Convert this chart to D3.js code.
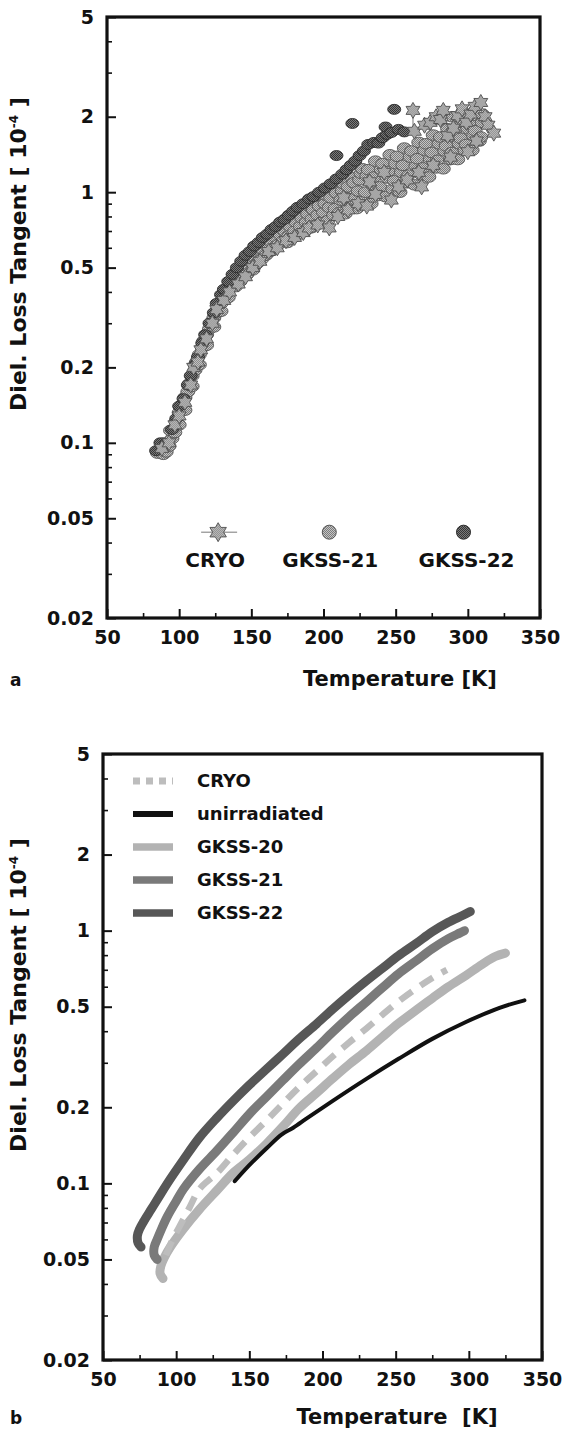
<!DOCTYPE html>
<html><head><meta charset="utf-8">
<script src="https://cdn.jsdelivr.net/npm/d3@7"></script>
<style>body{margin:0;background:#fff}text{fill:#111}</style>
</head><body>
<svg id="c" width="568" height="1433" xmlns="http://www.w3.org/2000/svg"></svg>
<script>
// ---------- DATA ----------
const xTicks = [50,100,150,200,250,300,350];
const xMinorTicks = [75,125,175,225,275,325];
const yTicks = [5,2,1,0.5,0.2,0.1,0.05,0.02];
const yTickLabels = ["5","2","1","0.5","0.2","0.1","0.05","0.02"];
const yMinorTicks = [4,3,0.9,0.8,0.7,0.6,0.4,0.3,0.09,0.08,0.07,0.06,0.04,0.03];

// panel a : scatter series [T (K), tan delta (1e-4)]
const scatterNames = ["CRYO","GKSS-21","GKSS-22"];
const gkss22Points = [[84,0.093],[87,0.1],[91,0.099],[95,0.113],[98,0.125],[100,0.14],[103,0.15],[106,0.17],[108,0.185],[111,0.205],[113,0.22],[116,0.25],[118,0.27],[121,0.3],[124,0.33],[126,0.36],[129,0.39],[131,0.41],[134,0.44],[137,0.47],[140,0.5],[143,0.53],[146,0.56],[149,0.58],[152,0.61],[155,0.63],[158,0.66],[161,0.68],[164,0.71],[167,0.73],[170,0.76],[173,0.78],[176,0.81],[179,0.84],[182,0.87],[186,0.9],[190,0.94],[193,0.96],[197,1.0],[201,1.04],[205,1.08],[209,1.13],[209,1.4],[213,1.18],[216,1.23],[219,1.28],[222,1.33],[225,1.4],[220,1.88],[228,1.46],[231,1.55],[235,1.58],[238,1.57],[241,1.65],[244,1.7],[243,1.82],[247,1.73],[249,2.14],[252,1.78],[256,1.74]];
const gkss21Points = [[85,0.091],[87,0.094],[89,0.09],[91,0.092],[93,0.097],[90,0.1],[95,0.104],[94,0.112],[97,0.11],[98,0.122],[100,0.118],[100,0.132],[102,0.142],[104,0.135],[104,0.152],[106,0.16],[107,0.172],[109,0.168],[109,0.185],[111,0.195],[112,0.21],[114,0.205],[114,0.225],[116,0.24],[117,0.255],[119,0.245],[119,0.27],[121,0.285],[122,0.3],[124,0.29],[124,0.315],[126,0.33],[127,0.35],[129,0.335],[129,0.36],[131,0.375],[132,0.39],[134,0.38],[134,0.41],[136,0.42],[137,0.44],[139,0.42],[139,0.45],[141,0.47],[142,0.44],[144,0.46],[144,0.49],[146,0.51],[147,0.47],[149,0.5],[149,0.53],[151,0.49],[152,0.55],[154,0.52],[155,0.57],[157,0.54],[158,0.59],[160,0.56],[161,0.61],[163,0.58],[164,0.63],[165,0.69],[166,0.6],[167,0.66],[169,0.62],[170,0.68],[172,0.64],[172,0.74],[173,0.7],[175,0.63],[176,0.67],[177,0.73],[178,0.79],[179,0.66],[180,0.7],[181,0.76],[183,0.68],[184,0.73],[184,0.84],[185,0.79],[187,0.7],[188,0.76],[189,0.82],[190,0.88],[191,0.72],[192,0.78],[193,0.85],[195,0.74],[196,0.81],[196,0.93],[197,0.88],[199,0.76],[200,0.83],[201,0.9],[202,0.97],[203,0.77],[204,0.87],[205,0.95],[207,0.81],[208,0.86],[208,1.02],[209,0.99],[211,0.83],[212,0.93],[213,1.01],[214,1.08],[215,0.82],[216,0.95],[217,1.05],[219,0.87],[220,0.94],[220,1.14],[221,1.09],[223,0.86],[224,1.01],[225,1.12],[226,1.19],[227,1.24],[228,0.92],[229,1.0],[230,1.16],[231,1.23],[233,0.9],[234,1.07],[235,1.15],[236,1.33],[238,0.97],[239,1.05],[240,1.23],[241,1.3],[243,0.96],[244,1.14],[245,1.21],[246,1.41],[248,1.03],[249,1.11],[250,1.3],[251,1.39],[253,1.0],[254,1.2],[255,1.28],[256,1.5],[258,1.09],[259,1.17],[260,1.38],[261,1.46],[263,1.07],[264,1.27],[265,1.36],[266,1.58],[268,1.17],[269,1.25],[270,1.47],[271,1.56],[273,1.15],[274,1.35],[275,1.44],[276,1.69],[278,1.25],[279,1.34],[280,1.56],[281,1.66],[283,1.24],[284,1.46],[285,1.53],[286,1.79],[288,1.35],[289,1.44],[290,1.67],[291,1.76],[293,1.35],[294,1.56],[295,1.64],[296,1.9],[298,1.47],[299,1.55],[300,1.79],[301,1.88],[303,1.47],[304,1.68],[305,1.76],[306,2.02],[308,1.6],[309,1.66],[310,1.9],[310,2.05],[297,2.08],[289,2.0],[281,1.95]];
const cryoPoints = [[88,0.095],[93,0.1],[97,0.118],[100,0.128],[104,0.145],[108,0.17],[110,0.2],[113,0.21],[115,0.235],[119,0.26],[123,0.3],[126,0.34],[131,0.37],[135,0.4],[141,0.43],[146,0.46],[151,0.5],[156,0.53],[162,0.58],[168,0.6],[174,0.64],[180,0.66],[186,0.69],[190,0.72],[196,0.74],[204,0.72],[210,0.8],[217,0.85],[224,0.9],[230,0.88],[236,0.98],[247,0.93],[252,1.05],[258,1.12],[262,2.12],[263,1.75],[266,1.2],[270,1.85],[274,1.9],[278,2.0],[281,1.95],[283,2.12],[286,1.68],[290,1.8],[293,2.02],[296,2.15],[299,1.9],[302,2.05],[305,2.2],[309,2.28],[312,2.0],[314,1.85],[318,1.72],[306,1.6],[300,1.45],[288,1.38],[276,1.28],[268,1.05],[242,1.2],[232,1.1],[214,0.95]];
const cryoErrorBar = [262,1.7,2.12]; // T, low, high
const scatterLegendT = [127,204,297];
const scatterLegendV = 0.044;
const scatterLegendLabelV = 0.034;

// panel b : fitted curves [T, tan delta]
const curveNames = ["CRYO","unirradiated","GKSS-20","GKSS-21","GKSS-22"];
const cryoCurve = [[93,0.052],[97,0.059],[102,0.067],[109,0.08],[116,0.095],[128,0.11],[139,0.13],[150,0.152],[162,0.178],[173,0.207],[184,0.24],[196,0.278],[207,0.318],[218,0.36],[230,0.41],[241,0.465],[252,0.525],[264,0.59],[275,0.65],[285,0.7]];
const unirradiatedCurve = [[140,0.102],[150,0.118],[162,0.138],[172,0.156],[180,0.166],[190,0.182],[207,0.212],[230,0.259],[252,0.311],[275,0.373],[298,0.435],[321,0.495],[338,0.53]];
const gkss20Curve = [[91,0.042],[89,0.044],[89.5,0.047],[92,0.051],[96,0.056],[104,0.065],[116,0.079],[128,0.094],[139,0.11],[150,0.124],[162,0.144],[173,0.168],[184,0.198],[196,0.228],[207,0.26],[218,0.295],[230,0.335],[241,0.38],[252,0.43],[264,0.485],[275,0.54],[286,0.6],[298,0.665],[309,0.735],[318,0.79],[325,0.815]];
const gkss21Curve = [[87,0.05],[85,0.052],[85,0.056],[87,0.06],[90,0.066],[94,0.074],[100,0.085],[105,0.095],[116,0.114],[128,0.135],[139,0.159],[150,0.188],[162,0.221],[173,0.256],[184,0.296],[196,0.344],[207,0.397],[218,0.455],[230,0.523],[241,0.595],[252,0.675],[264,0.76],[275,0.848],[286,0.93],[294,0.98],[297,1.0]];
const gkss22Curve = [[76,0.056],[74,0.058],[73.5,0.062],[75,0.066],[78,0.071],[83,0.079],[88,0.088],[94,0.1],[105,0.124],[116,0.152],[128,0.182],[139,0.212],[150,0.245],[162,0.284],[173,0.325],[184,0.373],[196,0.428],[207,0.489],[218,0.555],[230,0.633],[241,0.71],[252,0.796],[264,0.89],[275,0.99],[286,1.08],[296,1.15],[301,1.19]];

// ---------- DRAWING ----------
const svg = d3.select("#c");
const FONT = "'DejaVu Sans', sans-serif";

const defs = svg.append("defs");
function checker(id, c1, c2){
  const p = defs.append("pattern").attr("id",id).attr("patternUnits","userSpaceOnUse").attr("width",2).attr("height",2);
  p.append("rect").attr("width",2).attr("height",2).attr("fill",c1);
  p.append("rect").attr("width",1).attr("height",1).attr("fill",c2);
  p.append("rect").attr("x",1).attr("y",1).attr("width",1).attr("height",1).attr("fill",c2);
}
checker("pMid","#c4c4c4","#7c7c7c");
checker("pDark","#7a7a7a","#363636");
checker("pStar","#cacaca","#828282");

function panel(box){
  const x = d3.scaleLinear([50,350],[box.l,box.r]);
  const y = d3.scaleLog([0.02,5],[box.b,box.t]);
  const g = svg.append("g");
  g.append("g").attr("transform",`translate(0,${box.b})`)
    .call(d3.axisBottom(x).tickValues(xMinorTicks).tickSize(-5).tickFormat(""))
    .call(s=>s.select(".domain").remove()).selectAll("line").attr("stroke","#111").attr("stroke-width",1.6);
  g.append("g").attr("transform",`translate(${box.l},0)`)
    .call(d3.axisLeft(y).tickValues(yMinorTicks).tickSize(-5).tickFormat(""))
    .call(s=>s.select(".domain").remove()).selectAll("line").attr("stroke","#111").attr("stroke-width",1.6);
  const ax = g.append("g").attr("transform",`translate(0,${box.b})`)
    .call(d3.axisBottom(x).tickValues(xTicks).tickSize(-9).tickPadding(13).tickFormat(d3.format("d")));
  ax.select(".domain").remove();
  ax.selectAll("line").attr("stroke","#111").attr("stroke-width",2);
  ax.selectAll("text").attr("font-family",FONT).attr("font-weight","bold").attr("font-size",19).attr("fill","#111");
  const ay = g.append("g").attr("transform",`translate(${box.l},0)`)
    .call(d3.axisLeft(y).tickValues(yTicks).tickSize(-9).tickPadding(13).tickFormat((d,i)=>yTickLabels[i]));
  ay.select(".domain").remove();
  ay.selectAll("line").attr("stroke","#111").attr("stroke-width",2);
  ay.selectAll("text").attr("font-family",FONT).attr("font-weight","bold").attr("font-size",19).attr("fill","#111");
  g.append("rect").attr("x",box.l).attr("y",box.t).attr("width",box.r-box.l).attr("height",box.b-box.t)
    .attr("fill","none").attr("stroke","#111").attr("stroke-width",3.2);
  const yt = g.append("text").attr("transform",`translate(${box.tx},${box.ty}) rotate(-90)`)
    .attr("text-anchor","middle").attr("font-family",FONT).attr("font-weight","bold").attr("font-size",22);
  yt.append("tspan").text("Diel. Loss Tangent [ 10");
  yt.append("tspan").attr("dy",-8).attr("font-size",12).text("-4");
  yt.append("tspan").attr("dy",8).text(" ]");
  g.append("text").attr("x",box.xtx).attr("y",box.xty).attr("text-anchor","middle")
    .attr("font-family",FONT).attr("font-weight","bold").attr("font-size",21)
    .style("white-space","pre").text(box.xtitle);
  g.append("text").attr("x",10).attr("y",box.xty).attr("font-family",FONT)
    .attr("font-weight","bold").attr("font-size",17).text(box.letter);
  return {x,y,g};
}

const A = panel({l:107,r:540,t:17,b:618,tx:26,ty:254,xtx:400,xty:686,xtitle:"Temperature [K]",letter:"a"});
const B = panel({l:103,r:542,t:754,b:1360,tx:26,ty:995,xtx:397,xty:1424,xtitle:"Temperature  [K]",letter:"b"});

function starPath(R){
  const r = R*0.58, pts=[];
  for(let k=0;k<12;k++){
    const a = -Math.PI/2 + k*Math.PI/6;
    const rad = k%2===0 ? R : r;
    pts.push([rad*Math.cos(a), rad*Math.sin(a)]);
  }
  return "M"+pts.map(p=>p[0].toFixed(2)+","+p[1].toFixed(2)).join("L")+"Z";
}

// ---- panel a scatter ----
const sc = A.g.append("g");
sc.selectAll("ellipse.g21").data(gkss21Points).join("ellipse").attr("class","g21")
  .attr("cx",d=>A.x(d[0])).attr("cy",d=>A.y(d[1])).attr("rx",7).attr("ry",5.3)
  .attr("fill","url(#pMid)").attr("stroke","#555").attr("stroke-width",0.9);
sc.selectAll("ellipse.g22").data(gkss22Points).join("ellipse").attr("class","g22")
  .attr("cx",d=>A.x(d[0])).attr("cy",d=>A.y(d[1])).attr("rx",6.5).attr("ry",5)
  .attr("fill","url(#pDark)").attr("stroke","#2e2e2e").attr("stroke-width",0.9);
sc.append("line").attr("x1",A.x(cryoErrorBar[0])).attr("x2",A.x(cryoErrorBar[0]))
  .attr("y1",A.y(cryoErrorBar[1])).attr("y2",A.y(cryoErrorBar[2])).attr("stroke","#777").attr("stroke-width",1);
sc.selectAll("path.cryo").data(cryoPoints).join("path").attr("class","cryo")
  .attr("d",starPath(8)).attr("transform",d=>`translate(${A.x(d[0])},${A.y(d[1])})`)
  .attr("fill","url(#pStar)").attr("stroke","#4e4e4e").attr("stroke-width",0.9);

// legend a
const lg = A.g.append("g");
const lx = scatterLegendT.map(t=>A.x(t)), ly = A.y(scatterLegendV), lty = A.y(scatterLegendLabelV);
lg.append("line").attr("x1",lx[0]-17).attr("x2",lx[0]+19).attr("y1",ly).attr("y2",ly).attr("stroke","#777").attr("stroke-width",1);
lg.append("path").attr("d",starPath(9.5)).attr("transform",`translate(${lx[0]},${ly})`)
  .attr("fill","url(#pStar)").attr("stroke","#4e4e4e").attr("stroke-width",0.9);
lg.append("circle").attr("cx",lx[1]).attr("cy",ly).attr("r",7).attr("fill","url(#pMid)").attr("stroke","#555");
lg.append("circle").attr("cx",lx[2]).attr("cy",ly).attr("r",7).attr("fill","url(#pDark)").attr("stroke","#2e2e2e");
lg.selectAll("text.lab").data(scatterNames).join("text").attr("class","lab")
  .attr("x",(d,i)=>lx[i]+[-3,1,3][i]).attr("y",lty).attr("dy","0.36em").attr("text-anchor","middle")
  .attr("font-family",FONT).attr("font-weight","bold").attr("font-size",20).text(d=>d);

// ---- panel b curves ----
const line = d3.line().x(d=>B.x(d[0])).y(d=>B.y(d[1])).curve(d3.curveCatmullRom.alpha(0.5));
const styles = {
  "GKSS-20":{data:gkss20Curve,color:"#b3b3b3",w:9,dash:null},
  "unirradiated":{data:unirradiatedCurve,color:"#111",w:4,dash:null},
  "CRYO":{data:cryoCurve,color:"#bdbdbd",w:6.5,dash:"15,10"},
  "GKSS-21":{data:gkss21Curve,color:"#7a7a7a",w:9,dash:null},
  "GKSS-22":{data:gkss22Curve,color:"#575757",w:9,dash:null}
};
const cg = B.g.append("g");
["GKSS-20","unirradiated","CRYO","GKSS-21","GKSS-22"].forEach(n=>{
  const s = styles[n];
  cg.append("path").attr("d",line(s.data)).attr("fill","none").attr("stroke",s.color)
    .attr("stroke-width",s.w).attr("stroke-linecap",s.dash?"butt":"round").attr("stroke-linejoin","round")
    .attr("stroke-dasharray",s.dash);
});

// legend b
const lb = B.g.append("g");
curveNames.forEach((n,i)=>{
  const s = styles[n], yy = 781 + i*33;
  lb.append("line").attr("x1",133).attr("x2",173).attr("y1",yy).attr("y2",yy)
    .attr("stroke",s.color).attr("stroke-width",n==="unirradiated"?6:(n==="CRYO"?7:7.5))
    .attr("stroke-dasharray",n==="CRYO"?"7,6":null);
  lb.append("text").attr("x",197).attr("y",yy).attr("dy","0.36em")
    .attr("font-family",FONT).attr("font-weight","bold").attr("font-size",18).text(n);
});
</script>
</body></html>
